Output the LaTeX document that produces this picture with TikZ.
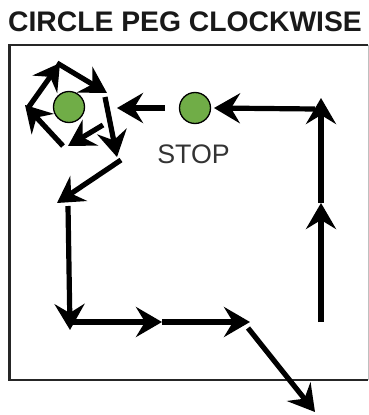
\documentclass[tikz,border=0pt]{standalone}
\usepackage{fontspec}
\setmainfont{Liberation Sans}
\usetikzlibrary{arrows.meta}
\definecolor{peggreen}{RGB}{112,173,71}
\tikzset{
  path/.style={line width=5.2pt, -{Stealth[length=26pt,width=30pt,inset=9pt]}},
  peg/.style={circle, draw=black, line width=1.3pt, fill=peggreen, minimum size=31pt, inner sep=0pt},
  frame/.style={line width=2.5pt, draw=black!85},
}
\begin{document}
\begin{tikzpicture}[x=1pt,y=-1pt]
\useasboundingbox (0,0) rectangle (369,415);
% frame
\draw[frame] (368,45) -- (9.5,45) -- (9.5,380) -- (368,380);
\draw[line width=1pt, draw=black!25] (368,45) -- (368,380);
% title and labels
\node[anchor=base, text=black!90, inner sep=0pt] (title) at (185,31)
  {\fontsize{28.3}{30}\selectfont\bfseries CIRCLE PEG CLOCKWISE};
\node[peg] (peg1) at (69,107) {};
\node[peg] (peg2) at (195,108) {};
\node[anchor=base, text=black!80, inner sep=0pt] (stop) at (193.5,163)
  {\fontsize{26.8}{28}\selectfont STOP};
% coordinates of the route
\coordinate (r0) at (321,322);
\coordinate (r1) at (321,203);
\coordinate (r2) at (321,98);
\coordinate (h0) at (315,109);
\coordinate (h1) at (214,108);
\coordinate (s0) at (165,108);
\coordinate (s1) at (117,108);
\coordinate (a0) at (103,125);
\coordinate (a1) at (68,146);
\coordinate (b0) at (63,146);
\coordinate (b1) at (25,105);
\coordinate (c0) at (28,108);
\coordinate (c1) at (60,63);
\coordinate (d0) at (57,63);
\coordinate (d1) at (107,93);
\coordinate (e0) at (105,97);
\coordinate (e1) at (117,157);
\coordinate (f0) at (121,160);
\coordinate (f1) at (57,203);
\coordinate (g0) at (68,206);
\coordinate (g1) at (70,330);
\coordinate (k0) at (70,322);
\coordinate (k1) at (162,322);
\coordinate (k2) at (250,322);
\coordinate (m0) at (248,328);
\coordinate (m1) at (315,412);
% route
\draw[path] (r0) -- (r1);
\draw[path] (r1) -- (r2);
\draw[path] (h0) -- (h1);
\draw[path] (s0) -- (s1);
\draw[path] (a0) -- (a1);
\draw[path] (b0) -- (b1);
\draw[path] (c0) -- (c1);
\draw[path] (d0) -- (d1);
\draw[path] (e0) -- (e1);
\draw[path] (f0) -- (f1);
\draw[path] (g0) -- (g1);
\draw[path] (k0) -- (k1);
\draw[path] (k1) -- (k2);
\draw[path] (m0) -- (m1);
\end{tikzpicture}
\end{document}
